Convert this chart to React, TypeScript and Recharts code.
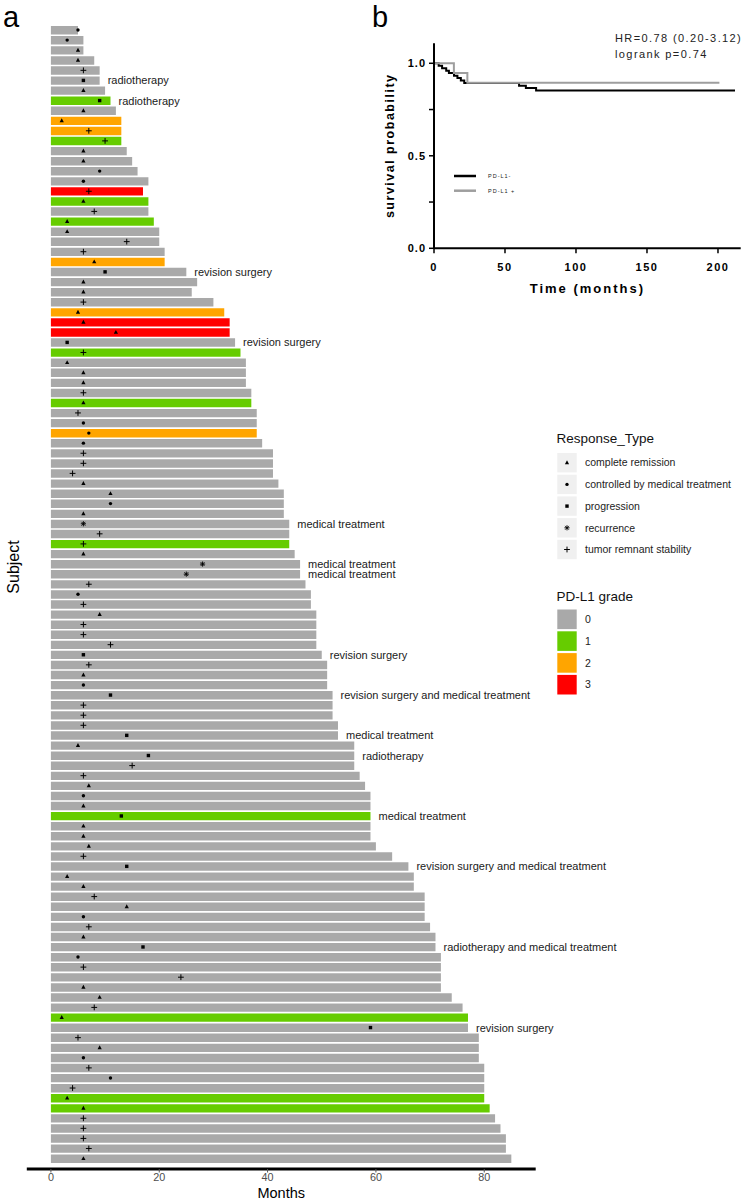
import React from "react";
import {
  ComposedChart,
  Bar,
  Scatter,
  XAxis,
  YAxis,
  Cell,
  LabelList,
  Label,
  LineChart,
  Line,
} from "recharts";

const FONT = '"Liberation Sans", Arial, Helvetica, sans-serif';

// ---- panel a: swimmer plot, one bar per subject, top to bottom ----
const followUpMonths = [
  5, 6, 6, 8, 9, 9, 10, 11, 12, 13,
  13, 13, 14, 15, 16, 18, 17, 18, 18, 19,
  20, 20, 21, 21, 25, 27, 26, 30, 32, 33,
  33, 34, 35, 36, 36, 36, 37, 37, 38, 38,
  38, 39, 41, 41, 41, 42, 43, 43, 43, 44,
  44, 44, 45, 46, 46, 47, 48, 48, 49, 49,
  49, 49, 50, 51, 51, 51, 52, 52, 52, 53,
  53, 56, 56, 56, 57, 58, 59, 59, 59, 59,
  59, 60, 63, 66, 67, 67, 69, 69, 69, 70,
  71, 71, 72, 72, 72, 72, 74, 76, 77, 77,
  79, 79, 79, 80, 80, 80, 80, 81, 82, 83,
  84, 84, 85,
];

const responseMonths = [
  5, 3, 5, 5, 6, 6, 6, 9, 6, 2,
  7, 10, 6, 6, 9, 6, 7, 6, 8, 3,
  3, 14, 6, 8, 10, 6, 6, 6, 5, 6,
  12, 3, 6, 3, 6, 6, 6, 6, 5, 6,
  7, 6, 6, 6, 4, 6, 11, 11, 6, 6,
  9, 6, 6, 28, 25, 7, 5, 6, 9, 6,
  6, 11, 6, 7, 6, 6, 11, 6, 6, 6,
  14, 5, 18, 15, 6, 7, 6, 6, 13, 6,
  6, 7, 6, 14, 3, 6, 8, 14, 6, 7,
  6, 17, 5, 6, 24, 6, 9, 8, 2, 59,
  5, 9, 6, 7, 11, 4, 3, 6, 6, 6,
  6, 7, 6,
];

// CR complete remission, MT controlled by medical treatment, PR progression,
// RE recurrence, ST tumor remnant stability
const responseTypes = [
  "MT", "MT", "CR", "CR", "ST", "PR", "CR", "PR", "CR", "CR",
  "ST", "ST", "CR", "CR", "MT", "MT", "ST", "CR", "ST", "CR",
  "CR", "ST", "ST", "CR", "PR", "CR", "CR", "ST", "CR", "CR",
  "CR", "PR", "ST", "CR", "CR", "CR", "ST", "CR", "ST", "MT",
  "MT", "MT", "ST", "ST", "ST", "CR", "CR", "MT", "CR", "RE",
  "ST", "ST", "CR", "RE", "RE", "ST", "MT", "ST", "CR", "ST",
  "ST", "ST", "PR", "ST", "CR", "MT", "PR", "ST", "ST", "ST",
  "PR", "CR", "PR", "ST", "ST", "CR", "MT", "CR", "PR", "CR",
  "CR", "CR", "ST", "PR", "CR", "CR", "ST", "CR", "MT", "ST",
  "CR", "PR", "MT", "ST", "ST", "CR", "CR", "ST", "CR", "PR",
  "ST", "CR", "MT", "ST", "MT", "ST", "CR", "CR", "ST", "ST",
  "ST", "ST", "CR",
];

const pdl1Grades = [
  0, 0, 0, 0, 0, 0, 0, 1, 0, 2,
  2, 1, 0, 0, 0, 0, 3, 1, 0, 1,
  0, 0, 0, 2, 0, 0, 0, 0, 2, 3,
  3, 0, 1, 0, 0, 0, 0, 1, 0, 0,
  2, 0, 0, 0, 0, 0, 0, 0, 0, 0,
  0, 1, 0, 0, 0, 0, 0, 0, 0, 0,
  0, 0, 0, 0, 0, 0, 0, 0, 0, 0,
  0, 0, 0, 0, 0, 0, 0, 0, 1, 0,
  0, 0, 0, 0, 0, 0, 0, 0, 0, 0,
  0, 0, 0, 0, 0, 0, 0, 0, 1, 0,
  0, 0, 0, 0, 0, 0, 1, 1, 0, 0,
  0, 0, 0,
];

const noteSubjects = [6, 8, 25, 32, 50, 54, 55, 63, 67, 71, 73, 79, 84, 92, 100];
const noteTexts = [
  "radiotherapy",
  "radiotherapy",
  "revision surgery",
  "revision surgery",
  "medical treatment",
  "medical treatment",
  "medical treatment",
  "revision surgery",
  "revision surgery and medical treatment",
  "medical treatment",
  "radiotherapy",
  "medical treatment",
  "revision surgery and medical treatment",
  "radiotherapy and medical treatment",
  "revision surgery",
];

const responseCodes = ["CR", "MT", "PR", "RE", "ST"];
const responseNames = [
  "complete remission",
  "controlled by medical treatment",
  "progression",
  "recurrence",
  "tumor remnant stability",
];
const gradeNames = ["0", "1", "2", "3"];
const gradeColors = ["#A9A9A9", "#66CC00", "#FFA500", "#FF0000"];
const monthTicks = [0, 20, 40, 60, 80];

const rows = followUpMonths.map((months, i) => {
  const k = noteSubjects.indexOf(i + 1);
  return {
    subject: i + 1,
    months,
    respMonth: responseMonths[i],
    response: responseTypes[i],
    grade: pdl1Grades[i],
    note: k >= 0 ? noteTexts[k] : "",
  };
});

// ---- panel b: Kaplan-Meier curves ----
const kmNegTime = [0, 3.3, 5.7, 8.6, 10.5, 14.1, 16.5, 18.9, 21.3, 59.9, 64.7, 71.9, 212];
const kmNegSurv = [1, 0.987, 0.973, 0.96, 0.947, 0.933, 0.92, 0.907, 0.893, 0.879, 0.866, 0.853, 0.853];
const kmPosTime = [0, 14, 23.5, 201];
const kmPosSurv = [1, 0.947, 0.895, 0.895];
const kmTimeTicks = [0, 50, 100, 150, 200];
const kmSurvTicks = [0, 0.25, 0.5, 0.75, 1];

const kmNeg = kmNegTime.map((t, i) => ({ t, s: kmNegSurv[i] }));
const kmPos = kmPosTime.map((t, i) => ({ t, s: kmPosSurv[i] }));

function Glyph({ kind, x, y }: { kind: string; x: number; y: number }) {
  switch (kind) {
    case "CR":
      return <path d={`M${x},${y - 2.4}L${x + 2.1},${y + 1.5}L${x - 2.1},${y + 1.5}Z`} fill="#000" />;
    case "MT":
      return <circle cx={x} cy={y} r={1.7} fill="#000" />;
    case "PR":
      return <rect x={x - 1.7} y={y - 1.7} width={3.4} height={3.4} fill="#000" />;
    case "RE":
      return (
        <g stroke="#000" strokeWidth={0.9}>
          <line x1={x - 2.6} y1={y} x2={x + 2.6} y2={y} />
          <line x1={x} y1={y - 2.6} x2={x} y2={y + 2.6} />
          <line x1={x - 1.9} y1={y - 1.9} x2={x + 1.9} y2={y + 1.9} />
          <line x1={x - 1.9} y1={y + 1.9} x2={x + 1.9} y2={y - 1.9} />
        </g>
      );
    default:
      return (
        <g stroke="#000" strokeWidth={1}>
          <line x1={x - 2.9} y1={y} x2={x + 2.9} y2={y} />
          <line x1={x} y1={y - 2.9} x2={x} y2={y + 2.9} />
        </g>
      );
  }
}

function ResponseMark(props: any) {
  const { cx, cy, payload } = props;
  if (cx == null || cy == null) return <g />;
  return <Glyph kind={payload.response} x={cx} y={cy} />;
}

function Legends() {
  const rowY = (i: number) => 462.7 + i * 21.7;
  return (
    <svg
      width={750}
      height={1202}
      style={{ position: "absolute", left: 0, top: 0, pointerEvents: "none" }}
      fontFamily={FONT}
    >
      <text x={3} y={26.5} fontSize={29} fill="#000">a</text>
      <text x={372} y={26.5} fontSize={29} fill="#000">b</text>
      <text
        x={13}
        y={567}
        fontSize={16}
        fill="#000"
        textAnchor="middle"
        dominantBaseline="central"
        transform="rotate(-90 13 567)"
      >
        Subject
      </text>

      <text x={556.5} y={443} fontSize={13.5} fill="#111">Response_Type</text>
      {responseCodes.map((code, i) => (
        <g key={code}>
          <rect x={557.3} y={rowY(i) - 9.7} width={19.4} height={19.4} fill="#F0F0F0" />
          <Glyph kind={code} x={567} y={rowY(i)} />
          <text x={585} y={rowY(i) + 3.7} fontSize={10.5} fill="#222">
            {responseNames[i]}
          </text>
        </g>
      ))}

      <text x={556.5} y={601} fontSize={13.5} fill="#111">PD-L1 grade</text>
      {gradeNames.map((g, i) => (
        <g key={g}>
          <rect x={557.3} y={609.5 + i * 21.8} width={19.4} height={19.6} fill={gradeColors[i]} />
          <text x={585} y={619.3 + i * 21.8 + 3.7} fontSize={10.5} fill="#222">
            {g}
          </text>
        </g>
      ))}

      <text x={615} y={41.5} fontSize={11} letterSpacing={1.4} fill="#222">
        HR=0.78 (0.20-3.12)
      </text>
      <text x={615} y={58} fontSize={11} letterSpacing={1.4} fill="#222">
        logrank p=0.74
      </text>

      <line x1={454} y1={176} x2={476} y2={176} stroke="#000" strokeWidth={2.5} />
      <text x={488} y={178} fontSize={5.5} letterSpacing={1} fill="#222">PD-L1-</text>
      <line x1={454} y1={190.7} x2={476} y2={190.7} stroke="#9E9E9E" strokeWidth={2.5} />
      <text x={488} y={192.7} fontSize={5.5} letterSpacing={1} fill="#222">PD-L1 +</text>
    </svg>
  );
}

function SwimmerPlot() {
  return (
    <ComposedChart
      width={750}
      height={1202}
      data={rows}
      layout="vertical"
      margin={{ top: 25, right: 214.3, bottom: 3, left: 26.8 }}
    >
      <XAxis
        type="number"
        domain={[-4.45, 89.5]}
        allowDataOverflow
        ticks={monthTicks}
        height={30}
        tickSize={3.5}
        tickMargin={0.5}
        tickLine={{ stroke: "#555", strokeWidth: 1 }}
        axisLine={{ stroke: "#000", strokeWidth: 3 }}
        tick={{ fill: "#4D4D4D", fontSize: 10.8 }}
      >
        <Label value="Months" position="insideBottom" offset={1} fill="#000" fontSize={14.5} />
      </XAxis>
      <YAxis type="category" dataKey="subject" hide padding={{ top: 0, bottom: 5.4 }} />
      <Bar dataKey="months" barSize={8.4} isAnimationActive={false}>
        {rows.map((r) => (
          <Cell key={r.subject} fill={gradeColors[r.grade]} />
        ))}
        <LabelList dataKey="note" position="right" offset={8} fill="#1A1A1A" fontSize={11} />
      </Bar>
      <Scatter dataKey="respMonth" shape={ResponseMark} isAnimationActive={false} />
    </ComposedChart>
  );
}

function SurvivalPlot() {
  return (
    <LineChart width={380} height={300} margin={{ top: 43.3, right: 9.3, bottom: 1.7, left: 0 }}>
      <XAxis
        type="number"
        dataKey="t"
        domain={[0, 216]}
        allowDataOverflow
        ticks={kmTimeTicks}
        height={50}
        tickSize={5}
        tickMargin={10}
        axisLine={{ stroke: "#000", strokeWidth: 2 }}
        tickLine={{ stroke: "#000", strokeWidth: 1.5 }}
        tick={{ fill: "#000", fontSize: 11, fontWeight: "bold", letterSpacing: 1.5 }}
      >
        <Label
          value="Time (months)"
          position="insideBottom"
          offset={5}
          fill="#000"
          style={{ fontWeight: "bold", fontSize: 13, letterSpacing: 2 }}
        />
      </XAxis>
      <YAxis
        type="number"
        domain={[0, 1.108]}
        allowDataOverflow
        ticks={kmSurvTicks}
        width={64}
        tickSize={5}
        tickMargin={3}
        tickFormatter={(v: number) => (v === 0 || v === 0.5 || v === 1 ? v.toFixed(1) : "")}
        axisLine={{ stroke: "#000", strokeWidth: 2 }}
        tickLine={{ stroke: "#000", strokeWidth: 1.5 }}
        tick={{ fill: "#000", fontSize: 11, fontWeight: "bold", letterSpacing: 1 }}
      >
        <Label
          value="survival probability"
          angle={-90}
          position="insideLeft"
          offset={20}
          fill="#000"
          style={{ textAnchor: "middle", fontWeight: "bold", fontSize: 12.5, letterSpacing: 1.5 }}
        />
      </YAxis>
      <Line
        data={kmNeg}
        dataKey="s"
        type="stepAfter"
        stroke="#000"
        strokeWidth={2}
        dot={false}
        isAnimationActive={false}
      />
      <Line
        data={kmPos}
        dataKey="s"
        type="stepAfter"
        stroke="#9E9E9E"
        strokeWidth={2}
        dot={false}
        isAnimationActive={false}
      />
    </LineChart>
  );
}

export default function App() {
  return (
    <div
      style={{
        position: "absolute",
        left: 0,
        top: 0,
        width: 750,
        height: 1202,
        background: "#fff",
        fontFamily: FONT,
      }}
    >
      <div style={{ position: "absolute", left: 0, top: 0 }}>
        <SwimmerPlot />
      </div>
      <div style={{ position: "absolute", left: 370, top: 0 }}>
        <SurvivalPlot />
      </div>
      <Legends />
    </div>
  );
}
